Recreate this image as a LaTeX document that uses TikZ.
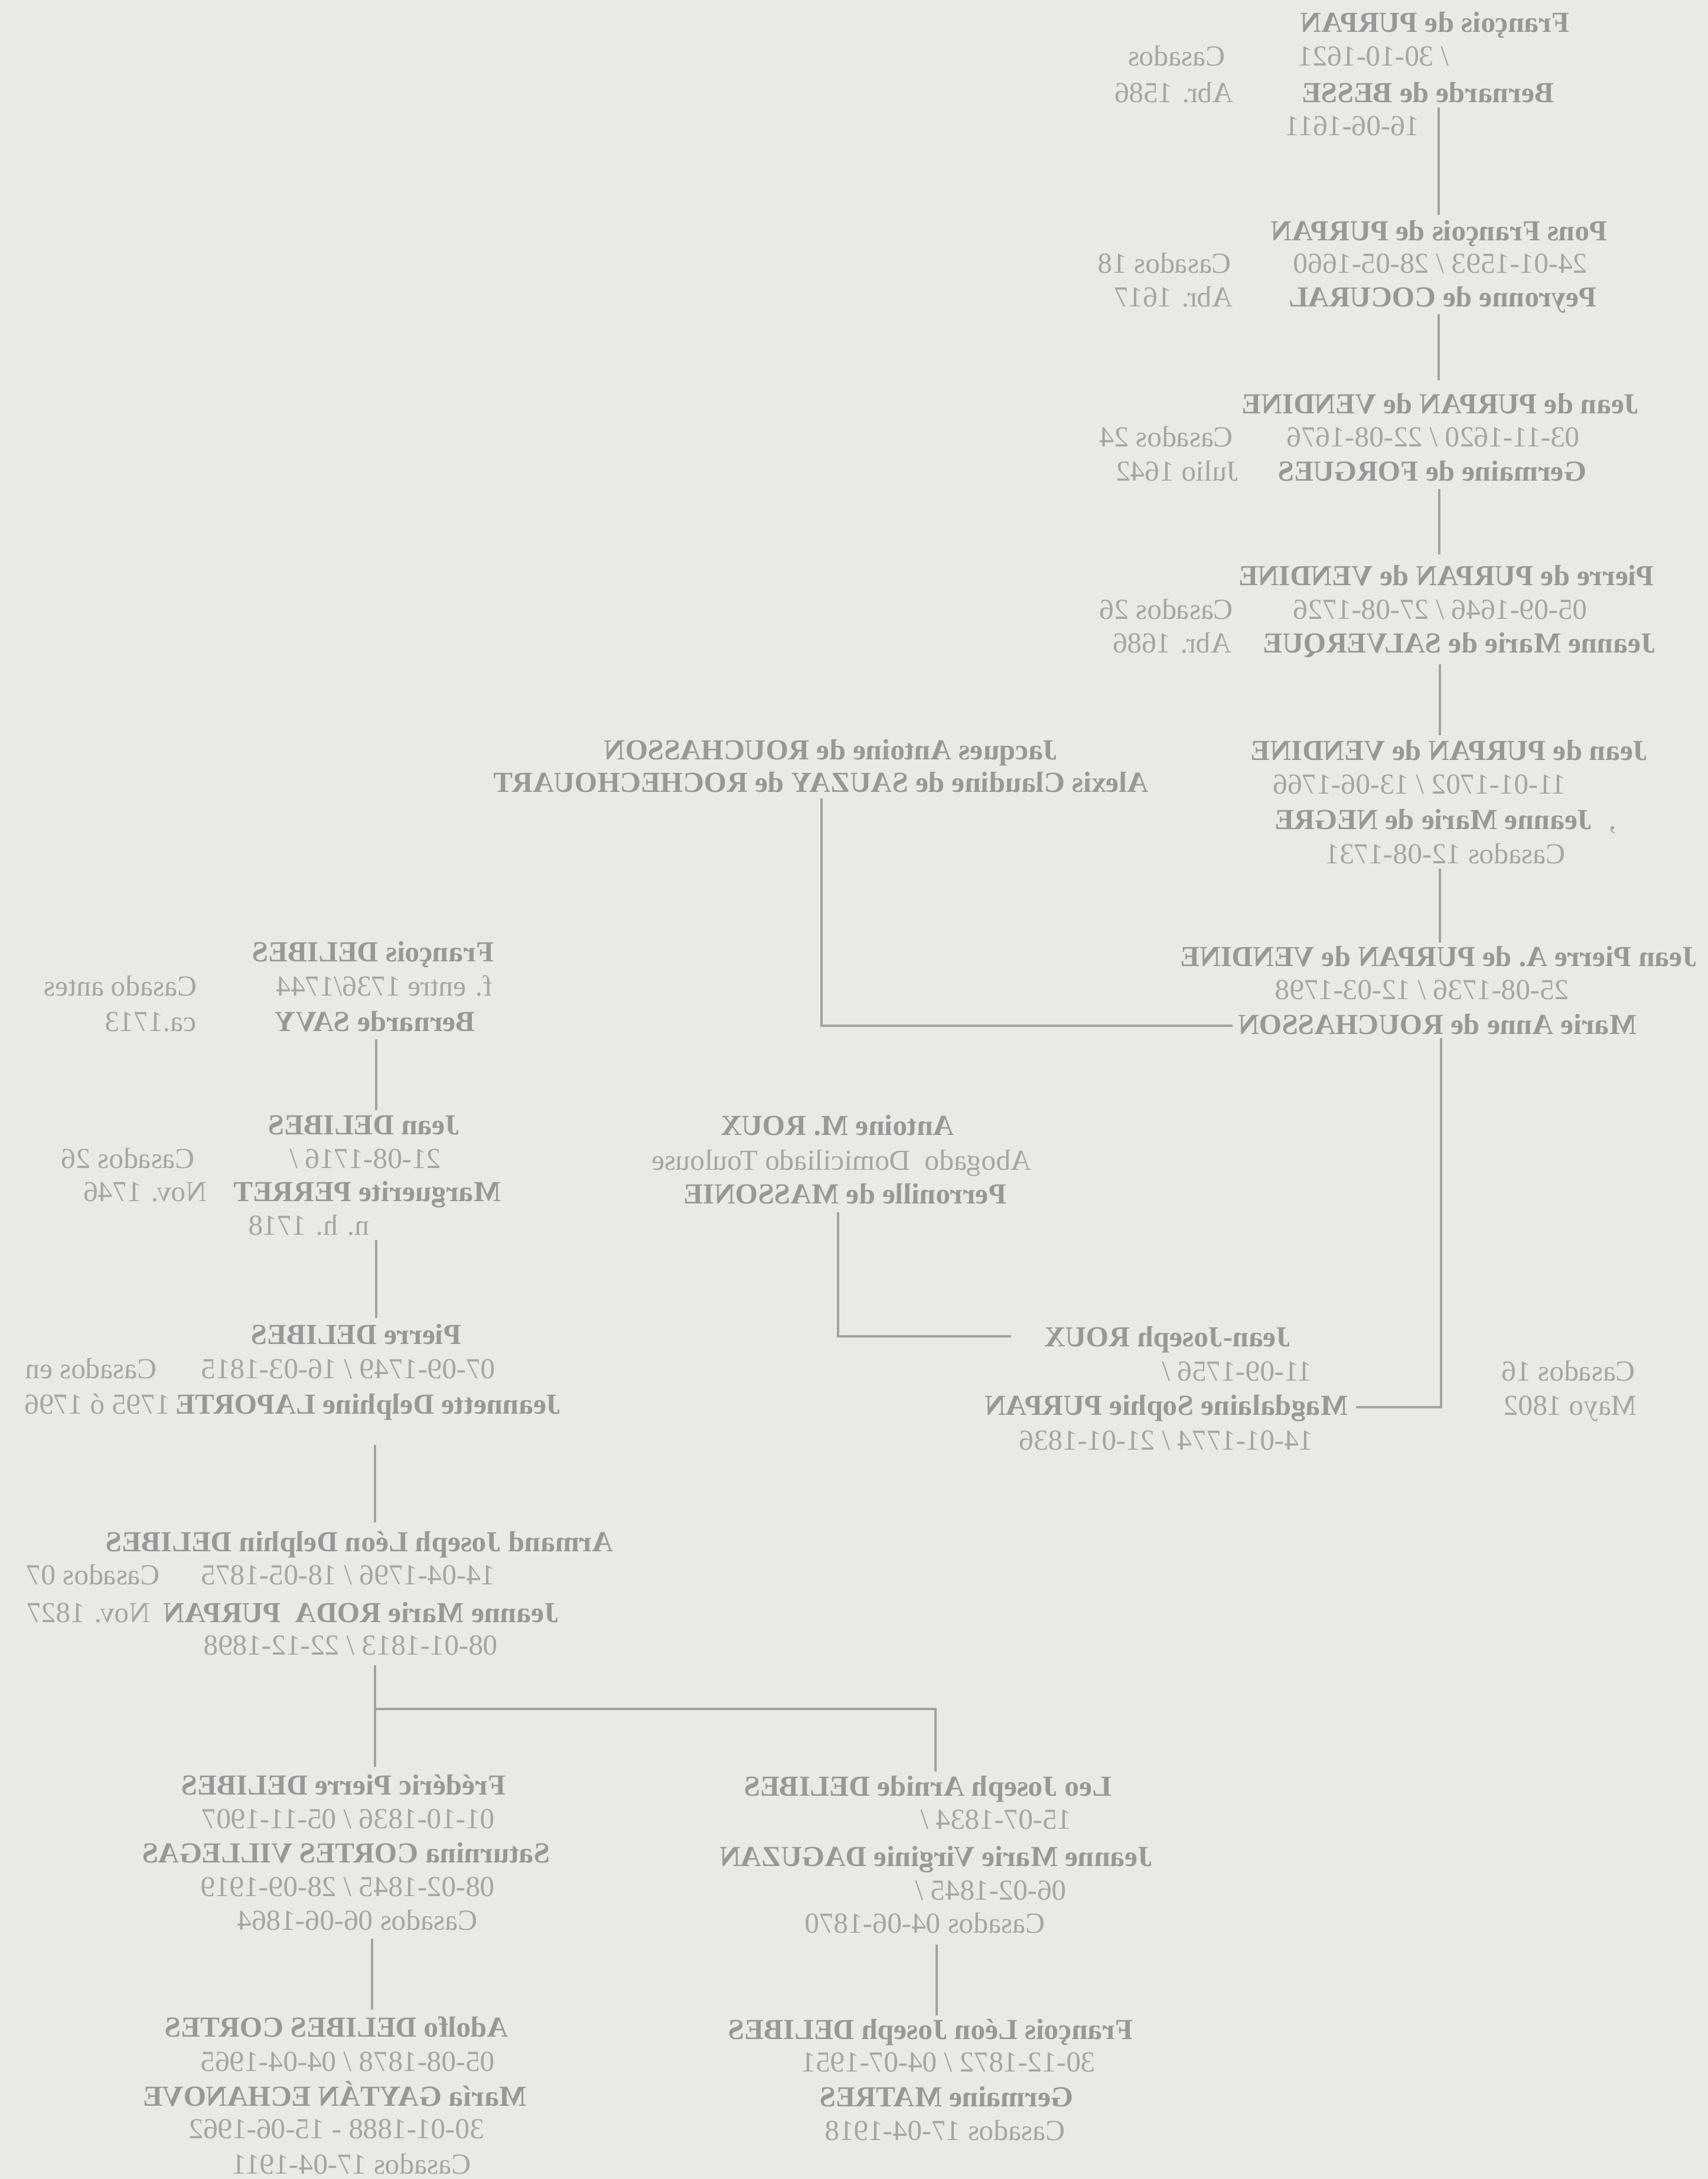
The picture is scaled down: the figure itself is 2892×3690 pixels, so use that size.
\documentclass[tikz,border=0pt]{standalone}
\usepackage{fontspec}
\setmainfont{Liberation Serif}
\definecolor{paper}{RGB}{232,234,230}
\definecolor{inkA}{RGB}{163,166,162}
\definecolor{inkB}{RGB}{150,153,149}
\definecolor{rulec}{RGB}{160,163,159}
\newcommand\mirtxt[1]{\reflectbox{#1}}
\tikzset{
  txtbase/.style={inner sep=0pt, outer sep=0pt, anchor=base},
  nm/.style={txtbase, text=inkB, font=\fontsize{14}{16}\selectfont\bfseries},
  tx/.style={txtbase, text=inkA, font=\fontsize{14}{16}\selectfont},
  ln/.style={draw=rulec, line width=0.9pt}
}
\begin{document}
\begin{tikzpicture}[x=0.01cm,y=-0.01cm]
\fill[paper] (0,0) rectangle (2892,3690);
\useasboundingbox (0,0) rectangle (2892,3690);
% ---------- Generation 1
\node[nm] (a1) at (2430,54) {\mirtxt{François de PURPAN}};
\node[tx] (a2) at (1992,111) {\mirtxt{Casados}};
\node[tx] (a3) at (2326,111) {\mirtxt{/ 30-10-1621}};
\node[nm] (a4) at (2418,173) {\mirtxt{Bernarde de BESSE}};
\node[tx] (a5) at (1988,173) {\mirtxt{Abr. 1586}};
\node[tx] (a6) at (2290,229) {\mirtxt{16-06-1611}};
% ---------- Generation 2
\node[nm] (b1) at (2437,407) {\mirtxt{Pons François de PURPAN}};
\node[tx] (b2) at (1972,462) {\mirtxt{Casados 18}};
\node[tx] (b3) at (2439,462) {\mirtxt{24-01-1593 / 28-05-1660}};
\node[nm] (b4) at (2443,519) {\mirtxt{Peyronne de COCURAL}};
\node[tx] (b5) at (1987,519) {\mirtxt{Abr. 1617}};
% ---------- Generation 3
\node[nm] (c1) at (2439,700) {\mirtxt{Jean de PURPAN de VENDINE}};
\node[tx] (c2) at (1975,756) {\mirtxt{Casados 24}};
\node[tx] (c3) at (2427,756) {\mirtxt{03-11-1620 / 22-08-1676}};
\node[nm] (c4) at (2425,814) {\mirtxt{Germaine de FORGUES}};
\node[tx] (c5) at (1993,814) {\mirtxt{Julio 1642}};
% ---------- Generation 4
\node[nm] (d1) at (2449,991) {\mirtxt{Pierre de PURPAN de VENDINE}};
\node[tx] (d2) at (1975,1048) {\mirtxt{Casados 26}};
\node[tx] (d3) at (2439,1048) {\mirtxt{05-09-1646 / 27-08-1726}};
\node[nm, anchor=base east] (d4) at (2803,1105) {\mirtxt{Jeanne Marie de SALVERQUE}};
\node[tx] (d5) at (1985,1105) {\mirtxt{Abr. 1686}};
% ---------- Generation 5
\node[nm] (e1) at (2454,1287) {\mirtxt{Jean de PURPAN de VENDINE}};
\node[tx] (e2) at (2404,1344) {\mirtxt{11-01-1702 / 13-06-1766}};
\node[nm] (e3) at (2427,1404) {\mirtxt{Jeanne Marie de NEGRE}};
\node[tx] (e3c) at (2730,1404) {\mirtxt{,}};
\node[tx] (e4) at (2447,1462) {\mirtxt{Casados 12-08-1731}};
\node[nm] (r1) at (1407,1286) {\mirtxt{Jacques Antoine de ROUCHASSON}};
\node[nm] (r2) at (1390,1341) {\mirtxt{Alexis Claudine de SAUZAY de ROCHECHOUART}};
% ---------- Generation 6
\node[nm] (f1) at (2436,1636) {\mirtxt{Jean Pierre A. de PURPAN de VENDINE}};
\node[tx] (f2) at (2408,1692) {\mirtxt{25-08-1736 / 12-03-1798}};
\node[nm] (f3) at (2434,1751) {\mirtxt{Marie Anne de ROUCHASSON}};
% ---------- ROUX
\node[nm] (m1) at (1418,1922) {\mirtxt{Antoine M. ROUX}};
\node[tx] (m2) at (1425,1981) {\mirtxt{Abogado\ \ Domiciliado Toulouse}};
\node[nm] (m3) at (1431,2038) {\mirtxt{Perronille de MASSONIE}};
\node[nm] (j1) at (1977,2280) {\mirtxt{Jean-Joseph ROUX}};
\node[tx] (j2) at (2095,2338) {\mirtxt{11-09-1756 /}};
\node[nm] (j3) at (1975,2396) {\mirtxt{Magdalaine Sophie PURPAN}};
\node[tx] (j4) at (1975,2455) {\mirtxt{14-01-1774 / 21-01-1836}};
\node[tx] (j5) at (2656,2338) {\mirtxt{Casados 16}};
\node[tx] (j6) at (2659,2396) {\mirtxt{Mayo 1802}};
% ---------- DELIBES column
\node[nm] (p1) at (632,1628) {\mirtxt{François DELIBES}};
\node[tx] (p2) at (204,1686) {\mirtxt{Casado antes}};
\node[tx] (p3) at (651,1686) {\mirtxt{f. entre 1736/1744}};
\node[nm] (p4) at (635,1746) {\mirtxt{Bernarde SAVY}};
\node[tx] (p5) at (255,1746) {\mirtxt{ca.1713}};
\node[nm] (q1) at (616,1921) {\mirtxt{Jean DELIBES}};
\node[tx] (q2) at (217,1978) {\mirtxt{Casados 26}};
\node[tx] (q3) at (619,1978) {\mirtxt{21-08-1716 /}};
\node[nm] (q4) at (622,2034) {\mirtxt{Marguerite PERRET}};
\node[tx] (q5) at (246,2034) {\mirtxt{Nov. 1746}};
\node[tx] (q6) at (523,2091) {\mirtxt{n. h. 1718}};
\node[nm] (s1) at (603,2276) {\mirtxt{Pierre DELIBES}};
\node[tx] (s2) at (154,2334) {\mirtxt{Casados en}};
\node[tx] (s3) at (590,2334) {\mirtxt{07-09-1749 / 16-03-1815}};
\node[nm] (s4) at (624,2394) {\mirtxt{Jeannette Delphine LAPORTE}};
\node[tx] (s5) at (165,2394) {\mirtxt{1795 ó 1796}};
\node[nm] (t1) at (609,2627) {\mirtxt{Armand Joseph Léon Delphin DELIBES}};
\node[tx] (t2) at (158,2683) {\mirtxt{Casados 07}};
\node[tx] (t3) at (590,2683) {\mirtxt{14-04-1796 / 18-05-1875}};
\node[nm, anchor=base east] (t4) at (946,2747) {\mirtxt{Jeanne Marie RODA\ \ PURPAN}};
\node[tx] (t5) at (150,2747) {\mirtxt{Nov. 1827}};
\node[tx] (t6) at (594,2802) {\mirtxt{08-01-1813 / 22-12-1898}};
% ---------- bottom left
\node[nm] (u1) at (582,3039) {\mirtxt{Frédéric Pierre DELIBES}};
\node[tx] (u2) at (590,3096) {\mirtxt{01-10-1836 / 05-11-1907}};
\node[nm] (u3) at (586,3154) {\mirtxt{Saturnina CORTES VILLEGAS}};
\node[tx] (u4) at (589,3211) {\mirtxt{08-02-1845 / 28-09-1919}};
\node[tx] (u5) at (605,3268) {\mirtxt{Casados 06-06-1864}};
\node[nm] (v1) at (570,3449) {\mirtxt{Adolfo DELIBES CORTES}};
\node[tx] (v2) at (589,3507) {\mirtxt{05-08-1878 / 04-04-1965}};
\node[nm] (v3) at (567,3566) {\mirtxt{María GAYTÁN ECHANOVE}};
\node[tx] (v4) at (570,3621) {\mirtxt{30-01-1888 - 15-06-1962}};
\node[tx] (v5) at (595,3681) {\mirtxt{Casados 17-04-1911}};
% ---------- bottom right
\node[nm] (w1) at (1571,3041) {\mirtxt{Leo Joseph Arnide DELIBES}};
\node[tx] (w2) at (1687,3097) {\mirtxt{15-07-1834 /}};
\node[nm] (w3) at (1585,3160) {\mirtxt{Jeanne Marie Virginie DAGUZAN}};
\node[tx] (w4) at (1678,3217) {\mirtxt{06-02-1845 /}};
\node[tx] (w5) at (1566,3273) {\mirtxt{Casados 04-06-1870}};
\node[nm] (x1) at (1576,3453) {\mirtxt{François Léon Joseph DELIBES}};
\node[tx] (x2) at (1606,3508) {\mirtxt{30-12-1872 / 04-07-1951}};
\node[nm] (x3) at (1603,3567) {\mirtxt{Germaine MATRES}};
\node[tx] (x4) at (1600,3624) {\mirtxt{Casados 17-04-1918}};
% ---------- connectors
\coordinate (L1a) at (2436,182); \coordinate (L1b) at (2436,364);
\coordinate (L2a) at (2436,532); \coordinate (L2b) at (2436,644);
\coordinate (L3a) at (2437,828); \coordinate (L3b) at (2437,939);
\coordinate (L4a) at (2438,1125); \coordinate (L4b) at (2438,1245);
\coordinate (L5a) at (2438,1471); \coordinate (L5b) at (2438,1596);
\coordinate (L6a) at (2440,1758); \coordinate (L6b) at (2440,2383); \coordinate (L6c) at (2296,2383);
\coordinate (Ra) at (1391,1352); \coordinate (Rb) at (1391,1737); \coordinate (Rc) at (2087,1737);
\coordinate (Ma) at (1419,2053); \coordinate (Mb) at (1419,2263); \coordinate (Mc) at (1712,2263);
\coordinate (P1a) at (637,1760); \coordinate (P1b) at (637,1880);
\coordinate (P2a) at (637,2100); \coordinate (P2b) at (637,2232);
\coordinate (P3a) at (635,2447); \coordinate (P3b) at (635,2578);
\coordinate (P4a) at (635,2820); \coordinate (P4b) at (635,2894); \coordinate (P4c) at (635,2992);
\coordinate (P4d) at (1584,2894); \coordinate (P4e) at (1584,3000);
\coordinate (P5a) at (630,3283); \coordinate (P5b) at (630,3403);
\coordinate (P6a) at (1586,3293); \coordinate (P6b) at (1586,3413);
\draw[ln] (L1a) -- (L1b);
\draw[ln] (L2a) -- (L2b);
\draw[ln] (L3a) -- (L3b);
\draw[ln] (L4a) -- (L4b);
\draw[ln] (L5a) -- (L5b);
\draw[ln] (L6a) -- (L6b) -- (L6c);
\draw[ln] (Ra) -- (Rb) -- (Rc);
\draw[ln] (Ma) -- (Mb) -- (Mc);
\draw[ln] (P1a) -- (P1b);
\draw[ln] (P2a) -- (P2b);
\draw[ln] (P3a) -- (P3b);
\draw[ln] (P4a) -- (P4b) -- (P4c);
\draw[ln] (P4b) -- (P4d) -- (P4e);
\draw[ln] (P5a) -- (P5b);
\draw[ln] (P6a) -- (P6b);
\end{tikzpicture}
\end{document}
